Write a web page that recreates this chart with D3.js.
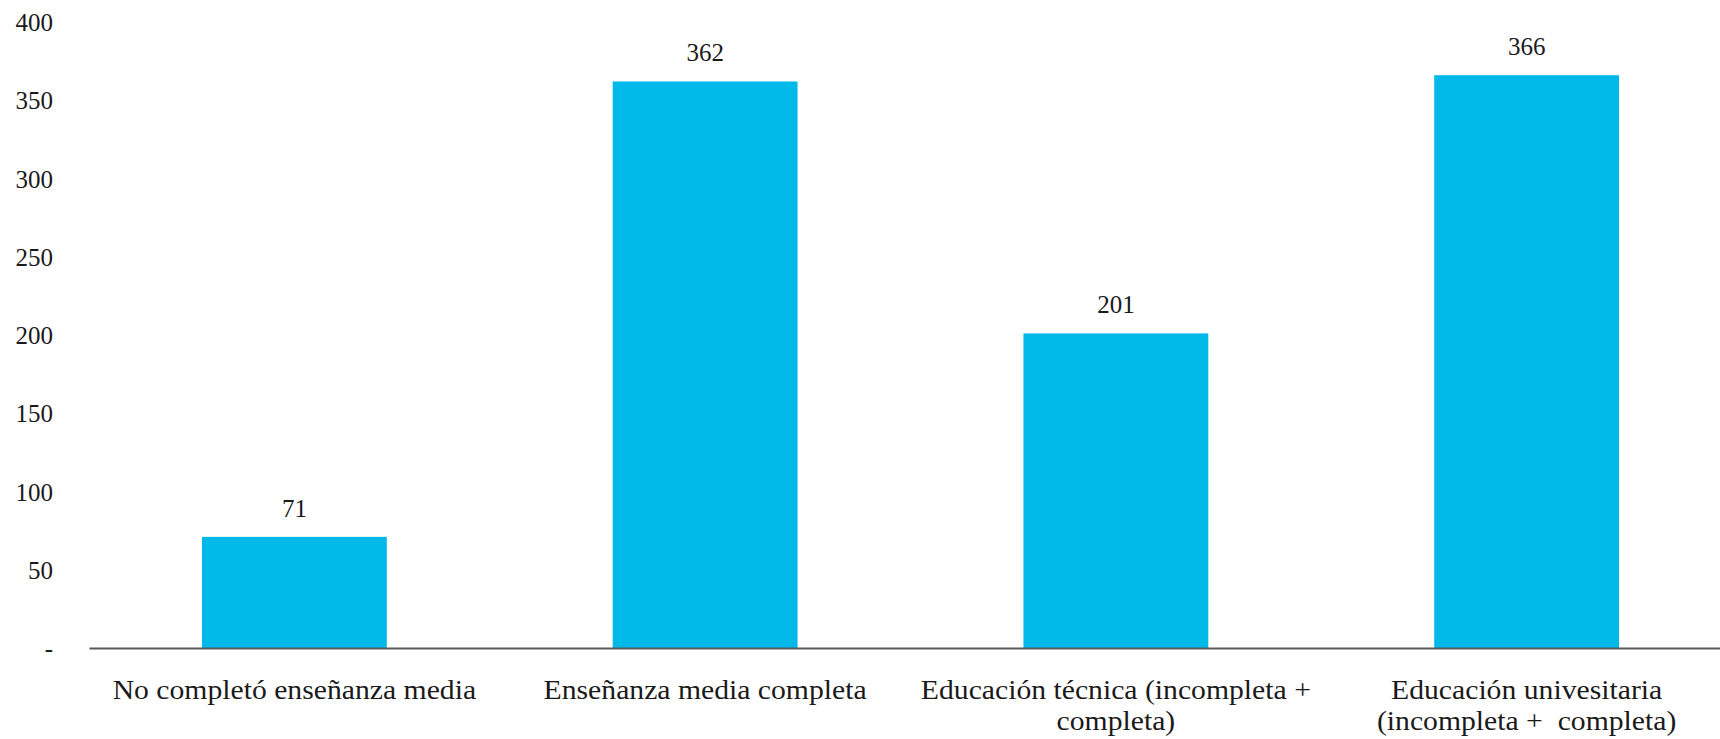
<!DOCTYPE html>
<html>
<head>
<meta charset="utf-8">
<script src="https://cdn.jsdelivr.net/npm/d3@7"></script>
<style>
  html, body { margin: 0; padding: 0; background: #fff; }
  svg { display: block; }
  text { font-family: "Liberation Serif", "DejaVu Serif", serif; fill: #1a1a1a; }
</style>
</head>
<body>
<svg id="chart" width="1720" height="739"></svg>
<script>
const categories = [
  "No completó enseñanza media",
  "Enseñanza media completa",
  "Educación técnica (incompleta +\ncompleta)",
  "Educación univesitaria\n(incompleta +  completa)"
];
const values = [71, 362, 201, 366];
const yTicks = [0, 50, 100, 150, 200, 250, 300, 350, 400];
const yTickLabels = ["-", "50", "100", "150", "200", "250", "300", "350", "400"];

const svg = d3.select("#chart");
const fontSize = 25;
const catFontSize = 26.5;
const widen = 1.12;

const x = d3.scaleBand()
  .domain(categories)
  .range([89, 1732])
  .paddingInner(0.55)
  .paddingOuter(0.275);

const y = d3.scaleLinear().domain([0, 400]).range([648, 22]);

// bars
svg.append("g").selectAll("rect")
  .data(values)
  .join("rect")
  .attr("x", (d, i) => x(categories[i]))
  .attr("width", x.bandwidth())
  .attr("y", d => y(d))
  .attr("height", d => y(0) - y(d))
  .attr("fill", "#00B9E8");

// value labels
svg.append("g").selectAll("text")
  .data(values)
  .join("text")
  .attr("x", (d, i) => x(categories[i]) + x.bandwidth() / 2)
  .attr("y", d => y(d) - 20)
  .attr("text-anchor", "middle")
  .style("font-size", fontSize + "px")
  .text(d => d);

// y axis (labels only)
const yAxis = d3.axisLeft(y)
  .tickValues(yTicks)
  .tickFormat((d, i) => yTickLabels[i])
  .tickSize(0)
  .tickPadding(0);
const gy = svg.append("g").attr("transform", "translate(53,0)").call(yAxis);
gy.select(".domain").remove();
gy.selectAll("text")
  .attr("fill", "#1a1a1a")
  .attr("dy", "0.34em")
  .style("font-size", fontSize + "px")
  .style("font-family", '"Liberation Serif", "DejaVu Serif", serif');

// x axis baseline
const xAxis = d3.axisBottom(x).tickSize(0).tickFormat("");
const gx = svg.append("g").attr("transform", `translate(0,${y(0)})`).call(xAxis);
gx.select(".domain").attr("stroke", "#595959").attr("stroke-width", 2);
gx.selectAll(".tick text").remove();

// category labels
const lab = svg.append("g").selectAll("text")
  .data(categories)
  .join("text")
  .attr("x", d => x(d) + x.bandwidth() / 2)
  .attr("y", 699)
  .attr("text-anchor", "middle")
  .attr("xml:space", "preserve")
  .style("white-space", "pre")
  .style("font-size", catFontSize + "px");
lab.each(function(d) {
  const t = d3.select(this);
  d.split("\n").forEach((line, j) => {
    const ts = t.append("tspan")
      .attr("x", x(d) + x.bandwidth() / 2)
      .attr("dy", j === 0 ? 0 : 31)
      .text(line);
    const len = ts.node().getComputedTextLength();
    ts.attr("textLength", len * widen).attr("lengthAdjust", "spacingAndGlyphs");
  });
});
</script>
</body>
</html>
